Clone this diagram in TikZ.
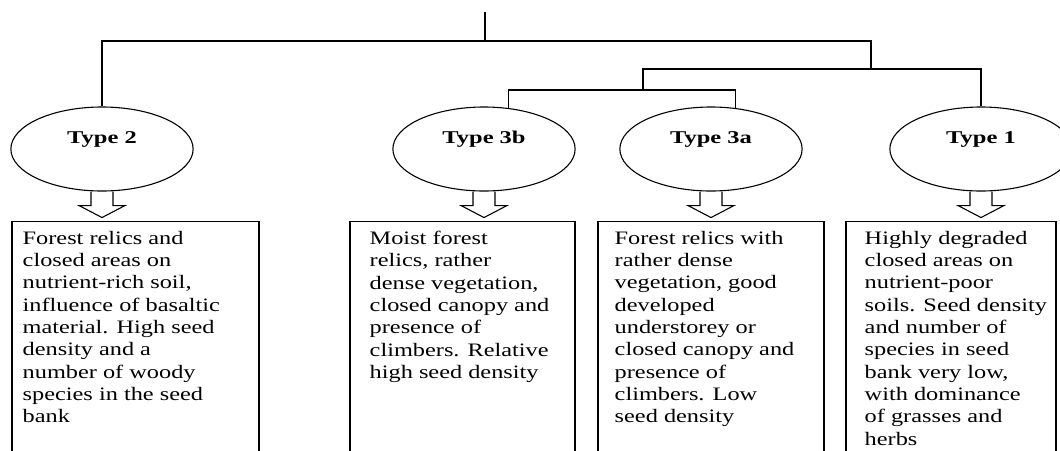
\documentclass[tikz,border=0pt]{standalone}
\usepackage{fontspec}
\setmainfont{Liberation Serif}
\usetikzlibrary{shapes.geometric}

\tikzset{
  typeoval/.style={draw, ellipse, line width=1.1pt, xscale=1.36, minimum width=134, minimum height=84,
    inner sep=0pt, text height=12pt, text depth=23pt, font=\fontsize{18}{20}\selectfont\bfseries},
  descbox/.style={draw, rectangle, line width=1.1pt, anchor=north, minimum height=260},
  desctext/.style={anchor=north west, inner sep=0pt, align=left, xscale=1.28,
    font=\fontsize{19}{22.3}\selectfont},
  link/.style={line width=1.1pt},
}

% hollow block arrow below an oval
\newcommand{\downblock}[1]{%
  \draw[link] ([xshift=-11]#1.south) -- ++(0,14) -- ++(-12,0) -- ++(23,12) -- ++(23,-12) -- ++(-12,0) -- ++(0,-14);}

\begin{document}
\begin{tikzpicture}[x=1pt, y=-1pt]
  \useasboundingbox (0,0) rectangle (1060,450);
  \clip (0,0) rectangle (1060,450);

  % ovals
  \node[typeoval] (type2)  at (102,149) {Type 2};
  \node[typeoval] (type3b) at (484,149) {Type 3b};
  \node[typeoval] (type3a) at (711,149) {Type 3a};
  \node[typeoval] (type1)  at (981,149) {Type 1};

  % tree
  \coordinate (top) at (485,12);
  \coordinate (j1) at (871,69);
  \coordinate (j2) at (643,90);
  \draw[link] (top) -- ++(0,29) -| (type2.north);
  \draw[link] (top) -- ++(0,29) -| (j1);
  \draw[link] (j1) -| (type1.north);
  \draw[link] (j1) -| (j2);
  \draw[link] (j2) -| (type3b.66);
  \draw[link] (j2) -| (type3a.66);

  % boxes
  \node[descbox, minimum width=247] (box2)  at (135.5,221) {};
  \node[descbox, minimum width=225] (box3b) at (462.5,221) {};
  \node[descbox, minimum width=226] (box3a) at (711,221) {};
  \node[descbox, minimum width=210] (box1)  at (951,221) {};

  \foreach \t in {type2,type3b,type3a,type1} {
    \downblock{\t}
  }

  % texts
  \node[desctext] (t2) at ([xshift=11, yshift=-10]box2.north west)
    {Forest relics and\\closed areas on\\nutrient-rich soil,\\influence of basaltic\\material. High seed\\density and a\\number of woody\\species in the seed\\bank};
  \node[desctext] (t3b) at ([xshift=20, yshift=-10]box3b.north west)
    {Moist forest\\relics, rather\\dense vegetation,\\closed canopy and\\presence of\\climbers. Relative\\high seed density};
  \node[desctext] (t3a) at ([xshift=17, yshift=-10]box3a.north west)
    {Forest relics with\\rather dense\\vegetation, good\\developed\\understorey or\\closed canopy and\\presence of\\climbers. Low\\seed density};
  \node[desctext] (t1) at ([xshift=19, yshift=-10]box1.north west)
    {Highly degraded\\closed areas on\\nutrient-poor\\soils. Seed density\\and number of\\species in seed\\bank very low,\\with dominance\\of grasses and\\herbs};
\end{tikzpicture}
\end{document}
